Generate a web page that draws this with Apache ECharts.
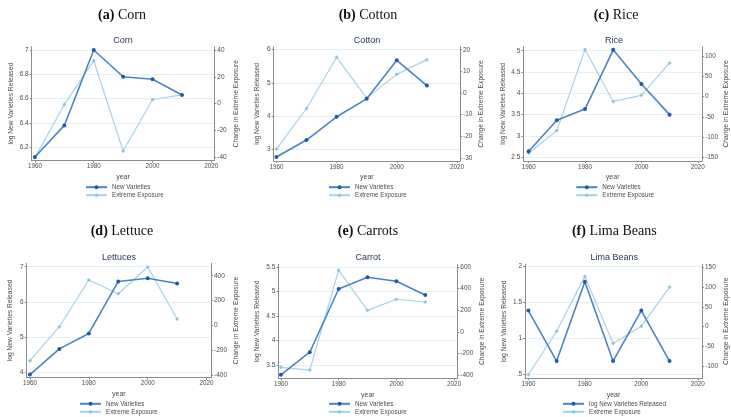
<!DOCTYPE html>
<html><head><meta charset="utf-8">
<script src="https://cdn.jsdelivr.net/npm/echarts@6/dist/echarts.min.js"></script>
<style>html,body{margin:0;padding:0;background:#fff}#c{width:731px;height:417px}</style>
</head><body><div id="c"></div>
<script>
// ---- data ----
const years = [1960, 1970, 1980, 1990, 2000, 2010];
const xTicks = [1960, 1980, 2000, 2020];

const cornVarieties = [6.12, 6.38, 7.00, 6.78, 6.76, 6.63];
const cornExposure = [-40.5, -0.7, 32, -35.5, 3, 6.5];
const cornLeftTicks = [6.2, 6.4, 6.6, 6.8, 7];
const cornRightTicks = [-40, -20, 0, 20, 40];

const cottonVarieties = [2.77, 3.28, 3.98, 4.52, 5.68, 4.92];
const cottonExposure = [-26, -7.2, 16.5, -2.4, 8.6, 15.4];
const cottonLeftTicks = [3, 4, 5, 6];
const cottonRightTicks = [-30, -20, -10, 0, 10, 20];

const riceVarieties = [2.64, 3.37, 3.63, 5.02, 4.22, 3.50];
const riceExposure = [-140, -84, 116, -12, 3, 83];
const riceLeftTicks = [2.5, 3, 3.5, 4, 4.5, 5];
const riceRightTicks = [-150, -100, -50, 0, 50, 100];

const lettuceVarieties = [3.93, 4.66, 5.10, 6.58, 6.67, 6.52];
const lettuceExposure = [-285, -11, 365, 255, 470, 51];
const lettuceLeftTicks = [4, 5, 6, 7];
const lettuceRightTicks = [-400, -200, 0, 200, 400];

const carrotVarieties = [3.30, 3.76, 5.05, 5.29, 5.21, 4.93];
const carrotExposure = [-327, -352, 570, 199, 302, 277];
const carrotLeftTicks = [3.5, 4, 4.5, 5, 5.5];
const carrotRightTicks = [-400, -200, 0, 200, 400, 600];

const limaVarieties = [1.39, 0.69, 1.79, 0.69, 1.39, 0.69];
const limaExposure = [-122, -12, 127, -43, 1, 100];
const limaLeftTicks = [0.5, 1, 1.5, 2];
const limaRightTicks = [-100, -50, 0, 50, 100, 150];

// ---- layout ----
const panels = [
  {lab:'(a)', name:'Corn', sub:'Corn', v:cornVarieties, e:cornExposure, lt:cornLeftTicks, rt:cornRightTicks, vName:'New Varieties',
   g:[31.7,46.7,182.6,114], x:[1958.9,2021], yl:[6.09,7.027], yr:[-42.8,42.5], gl:16.7, gr:18.4, gy:12.5,
   t:[122,15], s:[123,40.7], lg:[85,184.2]},
  {lab:'(b)', name:'Cotton', sub:'Cotton', v:cottonVarieties, e:cottonExposure, lt:cottonLeftTicks, rt:cottonRightTicks, vName:'New Varieties',
   g:[273.7,46.7,186.3,114.3], x:[1959.1,2021], yl:[2.65,6.09], yr:[-31.5,21.4], gl:13.4, gr:18, gy:12.5,
   t:[368,15], s:[367,40.7], lg:[328,184.2]},
  {lab:'(c)', name:'Rice', sub:'Rice', v:riceVarieties, e:riceExposure, lt:riceLeftTicks, rt:riceRightTicks, vName:'New Varieties',
   g:[523.3,46.7,181,114.3], x:[1958.1,2021.5], yl:[2.413,5.094], yr:[-159,123], gl:17, gr:21, gy:12.5,
   t:[616,15], s:[614,40.7], lg:[575.3,184.2]},
  {lab:'(d)', name:'Lettuce', sub:'Lettuces', v:lettuceVarieties, e:lettuceExposure, lt:lettuceLeftTicks, rt:lettuceRightTicks, vName:'New Varieties',
   g:[26.7,263.3,184.3,114.4], x:[1958.9,2021.5], yl:[3.84,7.097], yr:[-422,500], gl:12.7, gr:22, gy:13,
   t:[122,231.7], s:[119,257.3], lg:[79,400.8]},
  {lab:'(e)', name:'Carrots', sub:'Carrot', v:carrotVarieties, e:carrotExposure, lt:carrotLeftTicks, rt:carrotRightTicks, vName:'New Varieties',
   g:[278.3,264.3,179,114], x:[1959.1,2021.1], yl:[3.228,5.555], yr:[-428,625], gl:17.6, gr:21.7, gy:13,
   t:[368,231.7], s:[368,257.3], lg:[328,400.8]},
  {lab:'(f)', name:'Lima Beans', sub:'Lima Beans', v:limaVarieties, e:limaExposure, lt:limaLeftTicks, rt:limaRightTicks, vName:'log New Varieties Released',
   g:[525,264.3,179.3,114], x:[1958.8,2021.5], yl:[0.45,2.033], yr:[-131,157.6], gl:17.3, gr:21, gy:13,
   t:[614.3,231.7], s:[614.3,257.3], lg:[562,400.8]}
];

const SANS = 'Liberation Sans, Arial, Helvetica, sans-serif';
const SERIF = 'Liberation Serif, Times New Roman, serif';
const AX = '#8c8c8c', TXT = '#4d4d4d', GRID = '#e6eff3';
const DARK_LINE = '#4a84c4', DARK_MK = '#1c5ca8', LIGHT_LINE = '#a8d1ea', LIGHT_MK = '#8fc3e3';
const fmt = v => String(v).replace(/^0\./, '.');

const grid = [], xAxis = [], yAxis = [], series = [], title = [], legend = [];
panels.forEach((p, i) => {
  grid.push({left:p.g[0], top:p.g[1], width:p.g[2], height:p.g[3], containLabel:false, show:false});
  xAxis.push({
    type:'value', gridIndex:i, min:p.x[0], max:p.x[1],
    name:'year', nameLocation:'middle', nameGap:p.gy,
    nameTextStyle:{fontFamily:SANS, fontSize:7, color:TXT},
    axisLine:{show:true, onZero:false, lineStyle:{color:AX, width:1}},
    axisTick:{show:true, length:2, customValues:xTicks, lineStyle:{color:AX}},
    axisLabel:{customValues:xTicks, formatter:v => String(v), fontFamily:SANS, fontSize:6.3, color:TXT, margin:3},
    splitLine:{show:false}
  });
  yAxis.push({
    type:'value', gridIndex:i, position:'left', min:p.yl[0], max:p.yl[1],
    name:'log New Varieties Released', nameLocation:'middle', nameRotate:90, nameGap:p.gl,
    nameTextStyle:{fontFamily:SANS, fontSize:6.7, color:TXT},
    axisLine:{show:true, onZero:false, lineStyle:{color:AX, width:1}},
    axisTick:{show:true, length:2, customValues:p.lt, lineStyle:{color:AX}},
    axisLabel:{customValues:p.lt, formatter:fmt, fontFamily:SANS, fontSize:6.5, color:TXT, margin:3},
    splitLine:{show:true, lineStyle:{color:GRID, width:1}}
  });
  yAxis.push({
    type:'value', gridIndex:i, position:'right', min:p.yr[0], max:p.yr[1],
    name:'Change in Extreme Exposure', nameLocation:'middle', nameRotate:90, nameGap:p.gr,
    nameTextStyle:{fontFamily:SANS, fontSize:6.7, color:TXT},
    axisLine:{show:true, onZero:false, lineStyle:{color:AX, width:1}},
    axisTick:{show:true, length:2, customValues:p.rt, lineStyle:{color:AX}},
    axisLabel:{customValues:p.rt, formatter:fmt, fontFamily:SANS, fontSize:6.5, color:TXT, margin:3},
    splitLine:{show:false}
  });
  series.push({
    type:'line', name:p.vName, xAxisIndex:i, yAxisIndex:2*i,
    data:years.map((y, k) => [y, p.v[k]]),
    symbol:'circle', symbolSize:4, showSymbol:true,
    lineStyle:{color:DARK_LINE, width:1.6}, itemStyle:{color:DARK_MK},
    silent:true, z:3
  });
  series.push({
    type:'line', name:'Extreme Exposure', xAxisIndex:i, yAxisIndex:2*i+1,
    data:years.map((y, k) => [y, p.e[k]]),
    symbol:'diamond', symbolSize:4, showSymbol:true,
    lineStyle:{color:LIGHT_LINE, width:1.2}, itemStyle:{color:LIGHT_MK},
    silent:true, z:2
  });
  title.push({
    text:'{b|' + p.lab + '} ' + p.name, left:p.t[0], top:p.t[1] - 7, textAlign:'center', padding:0,
    textStyle:{fontFamily:SERIF, fontSize:14, fontWeight:'normal', color:'#111',
      rich:{b:{fontFamily:SERIF, fontSize:14, fontWeight:'bold', color:'#111'}}}
  });
  title.push({
    text:p.sub, left:p.s[0], top:p.s[1] - 4.5, textAlign:'center', padding:0,
    textStyle:{fontFamily:SANS, fontSize:9, fontWeight:'normal', color:'#27365f'}
  });
  legend.push({
    orient:'vertical', left:p.lg[0], top:p.lg[1], padding:0, itemWidth:21, itemHeight:5, itemGap:2,
    selectedMode:false, data:[p.vName, 'Extreme Exposure'],
    textStyle:{fontFamily:SANS, fontSize:6.3, color:TXT}
  });
});

const chart = echarts.init(document.getElementById('c'), null, {renderer:'canvas'});
chart.setOption({backgroundColor:'#fff', animation:false, grid, xAxis, yAxis, series, title, legend});
</script>
</body></html>
